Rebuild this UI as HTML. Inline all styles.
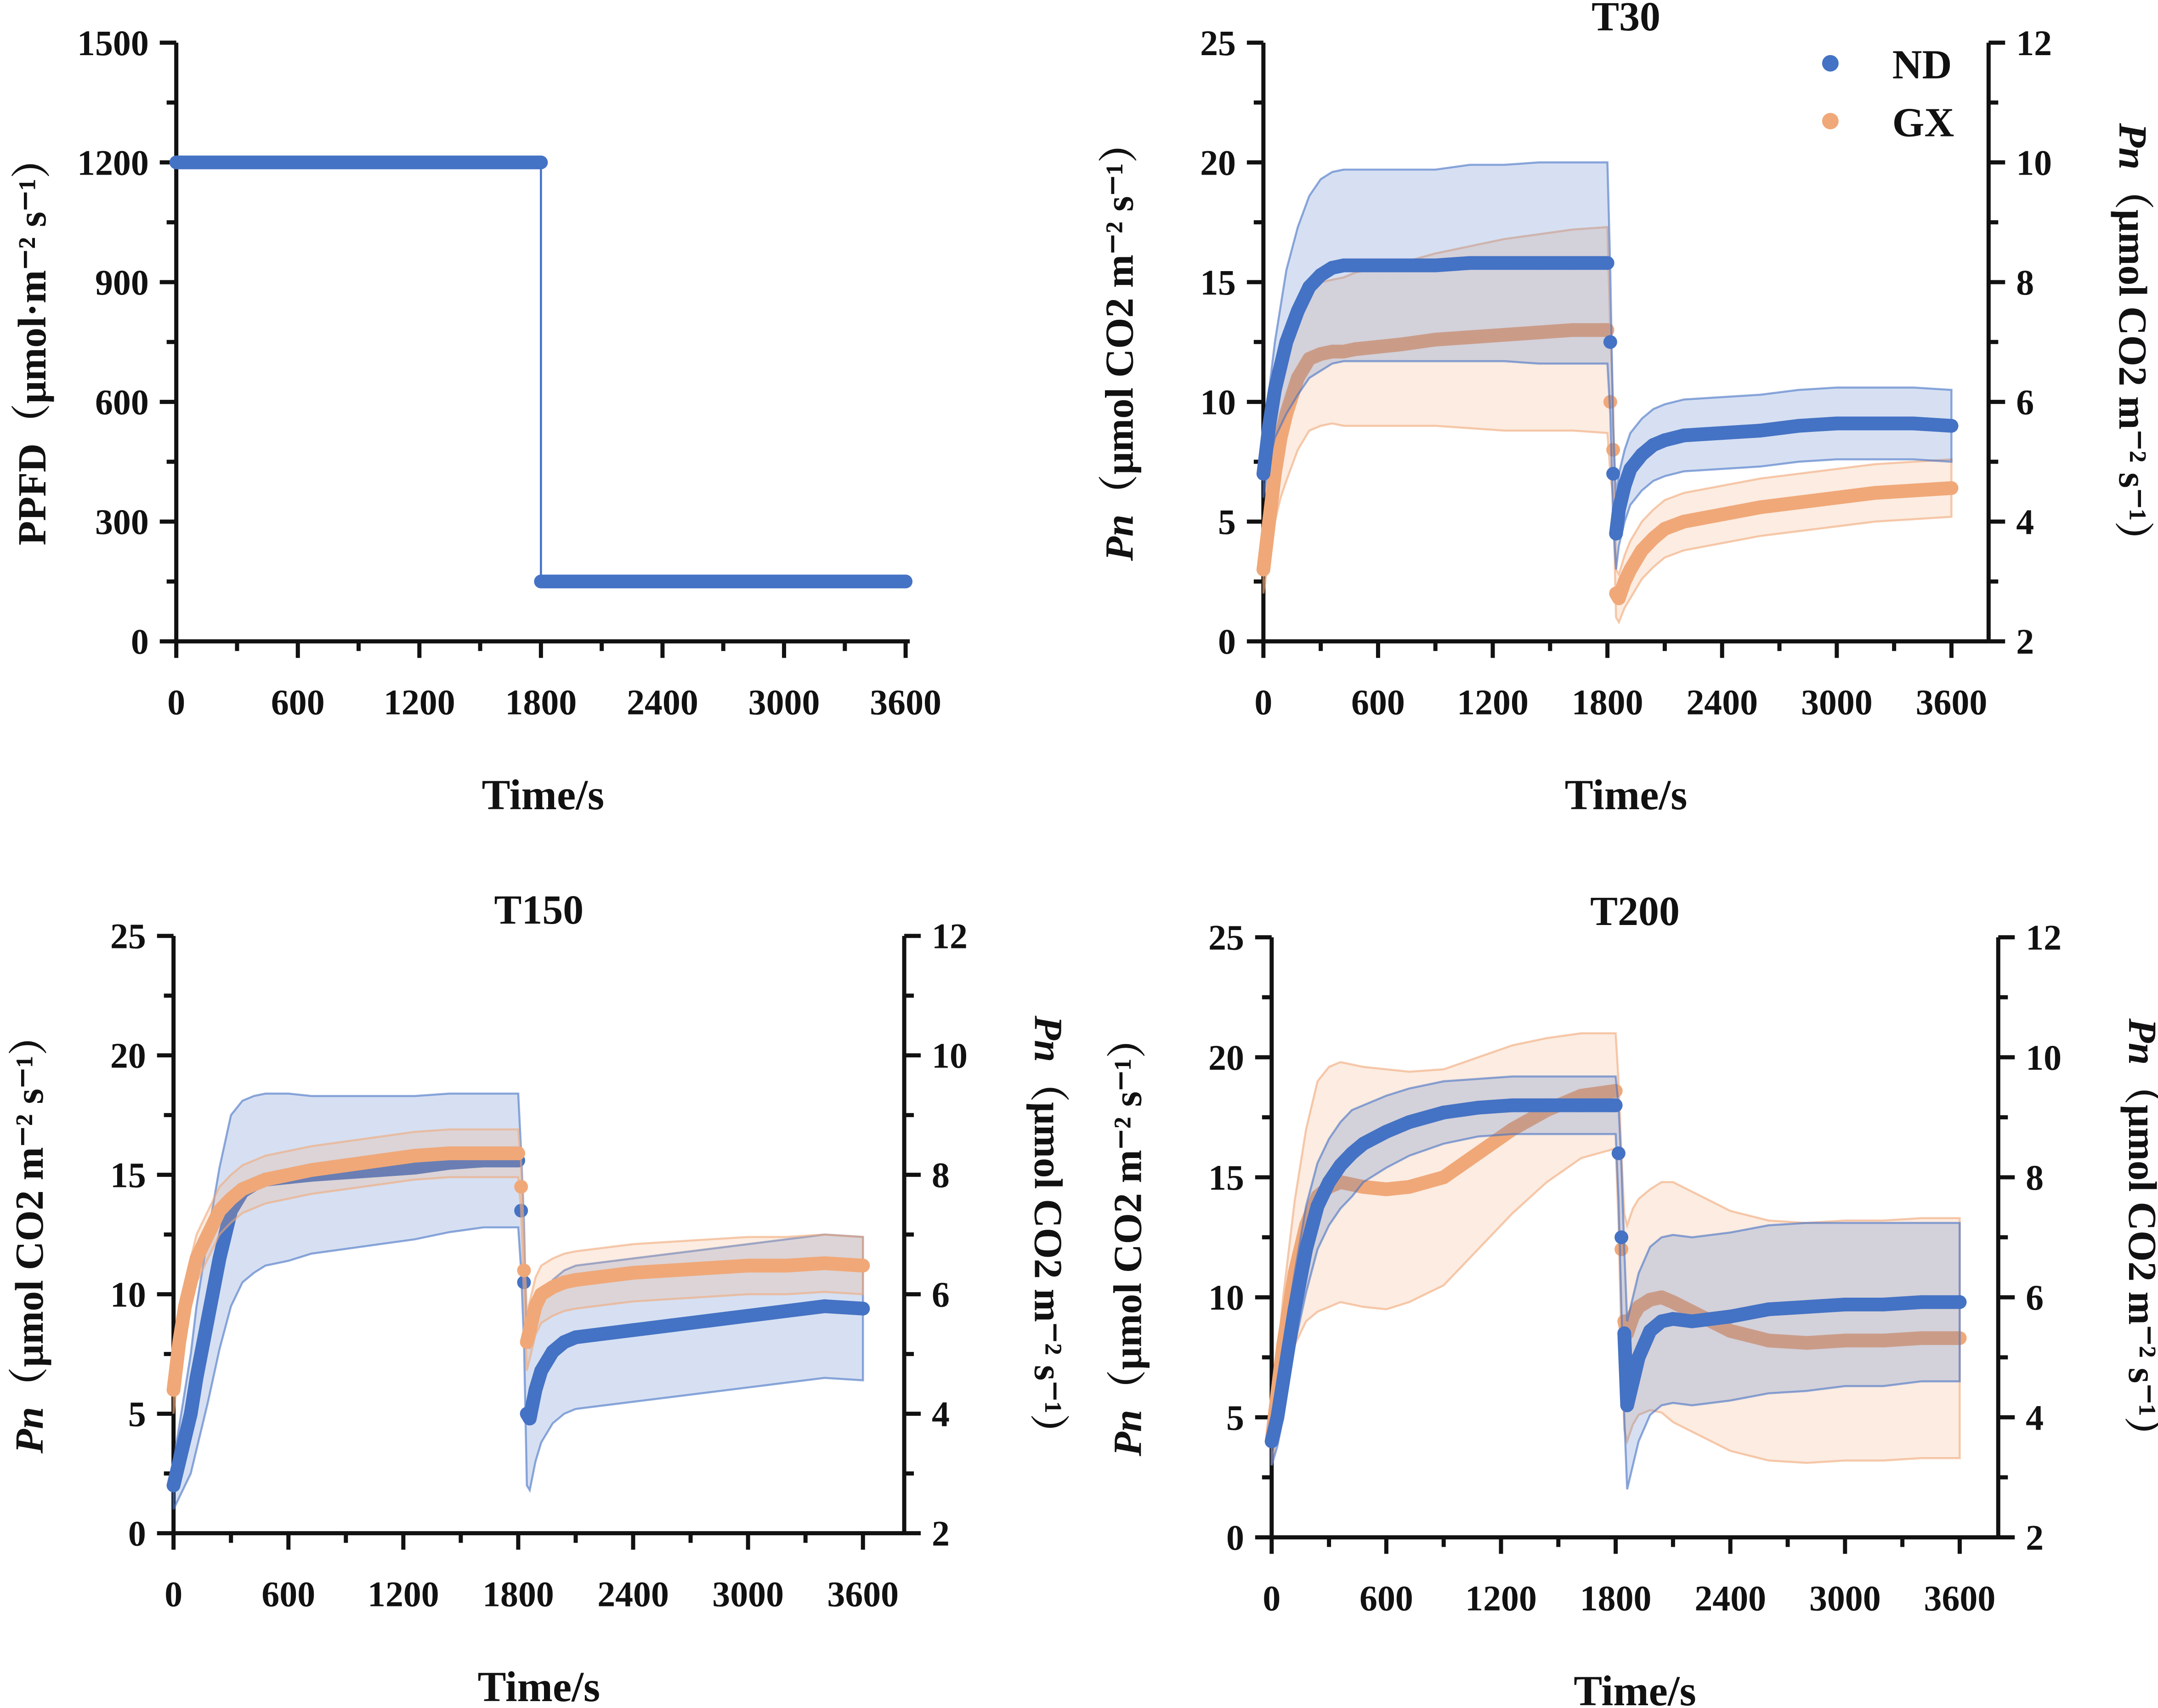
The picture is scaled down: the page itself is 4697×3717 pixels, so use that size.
<!DOCTYPE html>
<html><head><meta charset="utf-8"><style>
html,body{margin:0;padding:0;background:#fff}
svg{display:block}
text{font-family:"Liberation Serif","Noto Serif CJK SC",serif;font-weight:bold;fill:#111}
</style></head><body>
<svg id="chart" xmlns="http://www.w3.org/2000/svg" width="4697" height="3717" viewBox="0 0 1568 1241"></svg>
<script>
// ---- data ----
const times=[0,30,60,90,120,180,240,300,360,420,480,600,720,900,1080,1260,1440,1620,1800,1815,1830,1845,1860,1890,1920,1980,2040,2100,2200,2400,2600,2800,3000,3200,3400,3600];
const ppfdTimes=[0,1800,1800,3600];
const ppfdValues=[1200,1200,150,150];
const t30ND=[7,9,10.5,11.5,12.5,13.8,14.8,15.3,15.6,15.7,15.7,15.7,15.7,15.7,15.8,15.8,15.8,15.8,15.8,12.5,7,4.5,5.5,6.5,7.2,7.8,8.2,8.4,8.6,8.7,8.8,9.0,9.1,9.1,9.1,9.0];
const t30NDsd=[1,1.5,2,2.5,3,3.5,3.8,4,4,4,4,4,4,4,4.1,4.1,4.2,4.2,4.2,3,2,1.5,1.5,1.5,1.5,1.5,1.5,1.5,1.5,1.5,1.5,1.5,1.5,1.5,1.5,1.5];
const t30GX=[3,5,7,8.5,9.5,11,11.8,12,12.1,12.1,12.2,12.3,12.4,12.6,12.7,12.8,12.9,13,13,10,8,2,1.8,2.5,3.0,3.8,4.3,4.7,5.0,5.3,5.6,5.8,6.0,6.2,6.3,6.4];
const t30GXsd=[1,1.5,2,2.5,2.8,3,3,3,3,3.1,3.2,3.3,3.4,3.6,3.8,4,4.1,4.2,4.3,3,2,1,1,1.1,1.2,1.2,1.2,1.2,1.2,1.2,1.2,1.2,1.2,1.2,1.2,1.2];
const t150ND=[2,3,4,5,6.5,9,11.5,13.5,14.3,14.6,14.8,14.9,15.0,15.1,15.2,15.3,15.5,15.6,15.6,13.5,10.5,5,4.8,6,6.8,7.6,8,8.2,8.3,8.5,8.7,8.9,9.1,9.3,9.5,9.4];
const t150NDsd=[1,1.5,2,2.5,3,3.5,3.8,4,3.8,3.7,3.6,3.5,3.3,3.2,3.1,3,2.9,2.8,2.8,2.5,2.5,3,3,3,3,3,3,3,3,3,3,3,3,3,3,3];
const t150GX=[6,8,9.5,10.5,11.5,12.5,13.5,14,14.4,14.6,14.8,15,15.2,15.4,15.6,15.8,15.9,15.9,15.9,14.5,11,8,8.5,9.5,10,10.3,10.5,10.6,10.7,10.9,11,11.1,11.2,11.2,11.3,11.2];
const t150GXsd=[1,1,1,1,1,1,1,1,1,1,1,1,1,1,1,1,1,1,1,1,1.2,1.2,1.2,1.2,1.2,1.2,1.2,1.2,1.2,1.2,1.2,1.2,1.2,1.2,1.2,1.2];
const t200ND=[4,5,6.5,8,9.5,12,13.8,14.8,15.5,16,16.4,16.9,17.3,17.7,17.9,18,18,18,18,16,12.5,8.5,5.5,6.5,7.5,8.6,9.0,9.1,9.0,9.2,9.5,9.6,9.7,9.7,9.8,9.8];
const t200NDsd=[1,1.2,1.5,1.5,1.5,1.8,1.8,1.8,1.8,1.8,1.6,1.5,1.4,1.3,1.2,1.2,1.2,1.2,1.2,2,3,3.5,3.5,3.5,3.5,3.5,3.5,3.5,3.5,3.5,3.5,3.5,3.4,3.4,3.3,3.3];
const t200GX=[4,6,8,9.5,11,13,14.2,14.6,14.8,14.7,14.6,14.5,14.6,15,16,17,17.8,18.4,18.6,16,12,9,8.5,9.2,9.6,9.9,10.0,9.8,9.4,8.6,8.2,8.1,8.2,8.2,8.3,8.3];
const t200GXsd=[1,1.5,2,2.5,3,4,4.8,5,5,5,5,5,4.8,4.5,4,3.5,3,2.6,2.4,3,4,4.5,4.5,4.5,4.5,4.6,4.8,5,5,5,5,5,5,5,5,5];
const xTicks=[0,600,1200,1800,2400,3000,3600];
const pnTicks=[0,5,10,15,20,25];
const rightTicks=[2,4,6,8,10,12];
const ppfdTicks=[0,300,600,900,1200,1500];

const NS="http://www.w3.org/2000/svg";
const svg=document.getElementById('chart');
function el(tag,attrs,parent,txt){const e=document.createElementNS(NS,tag);for(const k in attrs)e.setAttribute(k,attrs[k]);if(txt!==undefined)e.textContent=txt;(parent||svg).appendChild(e);return e;}
const ND="#4472C4", GX="#F0A878";

function panel(p){
  const g=el('g',{});
  
  
  const xs=t=>p.x0+(p.x1-p.x0)*t/3600;
  const ys=v=>p.yb-(p.yb-p.yt)*v/p.ymax;
  const xr=p.rx||p.x1+3;
  // axes
  const ax=el('line',{x1:p.x0,y1:p.yb,x2:xr,y2:p.yb,stroke:'#111','stroke-width':3},g);
  
  const ay=el('line',{x1:p.x0,y1:p.yb+1,x2:p.x0,y2:p.yt,stroke:'#111','stroke-width':3},g);
  
  for(let t=0;t<=3600;t+=300){
    const maj=t%600===0;
    el('line',{x1:xs(t),y1:p.yb,x2:xs(t),y2:p.yb+(maj?12:7),stroke:'#111','stroke-width':3},g);
  }
  xTicks.forEach(t=>{const tx=el('text',{x:xs(t),y:p.yb+53,'text-anchor':'middle','font-size':26},g,String(t));
    });
  const yt=p.yticks;
  for(let i=0;i<yt.length;i++){
    const y=ys(yt[i]);
    el('line',{x1:p.x0,y1:y,x2:p.x0-12,y2:y,stroke:'#111','stroke-width':3},g);
    if(i<yt.length-1){const ym=(y+ys(yt[i+1]))/2;el('line',{x1:p.x0,y1:ym,x2:p.x0-7,y2:ym,stroke:'#111','stroke-width':3},g);}
    const tx=el('text',{x:p.x0-20,y:y+9,'text-anchor':'end','font-size':26},g,String(yt[i]));
    
  }
  if(p.rx){
    el('line',{x1:p.rx,y1:p.yb+1,x2:p.rx,y2:p.yt,stroke:'#111','stroke-width':3},g);
    for(let i=0;i<rightTicks.length;i++){
      const y=p.yb-(p.yb-p.yt)*(rightTicks[i]-2)/10;
      el('line',{x1:p.rx,y1:y,x2:p.rx+12,y2:y,stroke:'#111','stroke-width':3},g);
      if(i<rightTicks.length-1){const ym=y-(p.yb-p.yt)/10;el('line',{x1:p.rx,y1:ym,x2:p.rx+7,y2:ym,stroke:'#111','stroke-width':3},g);}
      const tx=el('text',{x:p.rx+20,y:y+9,'font-size':26},g,String(rightTicks[i]));
      
    }
    const cx=p.rx+95, cy=(p.yb+p.yt)/2;
    const rl=el('text',{x:cx,y:cy,'text-anchor':'middle','font-size':29,transform:`rotate(90 ${cx} ${cy})`},g);
    
    el('tspan',{'font-style':'italic'},rl,'Pn');el('tspan',{},rl,'（μmol CO2 m⁻² s⁻¹）');
  }
  // labels
  const xl=el('text',{x:(p.x0+xr)/2,y:p.yb+122,'text-anchor':'middle','font-size':31},g,'Time/s');
  
  const lx=p.x0-95, ly=(p.yb+p.yt)/2;
  const yl=el('text',{x:lx,y:ly,'text-anchor':'middle','font-size':29,transform:`rotate(-90 ${lx} ${ly})`},g);
  
  if(p.ppfd){el('tspan',{},yl,'PPFD（μmol·m⁻² s⁻¹）');}
  else {el('tspan',{'font-style':'italic'},yl,'Pn');el('tspan',{},yl,'（μmol CO2 m⁻² s⁻¹）');}
  if(p.title){const tt=el('text',{x:(p.x0+xr)/2,y:p.yt-9,'text-anchor':'middle','font-size':30},g,p.title);
    }
  // series
  (p.series||[]).forEach(s=>{
    const up=times.map((t,i)=>xs(t)+','+ys(s.m[i]+s.sd[i]));
    const lo=times.map((t,i)=>xs(t)+','+ys(Math.max(0,s.m[i]-s.sd[i]))).reverse();
    const band=el('polygon',{points:up.concat(lo).join(' '),fill:s.c,'fill-opacity':0.22,stroke:s.c,'stroke-opacity':0.6,'stroke-width':1.5},g);
    
    const i1=times.indexOf(1800);
    [[0,i1+1],[i1+3,times.length]].forEach(([a,b])=>{
      const pts=times.slice(a,b).map((t,k)=>xs(t)+','+ys(s.m[a+k])).join(' ');
      const pl=el('polyline',{points:pts,fill:'none',stroke:s.c,'stroke-width':10,'stroke-linecap':'round','stroke-linejoin':'round'},g);
      
    });
    times.forEach((t,i)=>{const c=el('circle',{cx:xs(t),cy:ys(s.m[i]),r:5,fill:s.c},g);
      });
  });
  if(p.ppfd){
    const pts=ppfdTimes.map((t,i)=>xs(t)+','+ys(ppfdValues[i])).join(' ');
    el('polyline',{points:pts,fill:'none',stroke:ND,'stroke-width':1.5},g);
    [[0,1],[2,3]].forEach(([a,b])=>{
      el('line',{x1:xs(ppfdTimes[a]),y1:ys(ppfdValues[a]),x2:xs(ppfdTimes[b]),y2:ys(ppfdValues[b]),stroke:ND,'stroke-width':10,'stroke-linecap':'round'},g);
    });
  }
  return g;
}
panel({name:'ppfd-panel',x0:128,x1:658,yb:466,yt:31,ymax:1500,yticks:ppfdTicks,ppfd:true});
panel({name:'t30-panel',title:'T30',x0:918,x1:1418,yb:466,yt:31,ymax:25,yticks:pnTicks,rx:1445,
  series:[{n:'gx',m:t30GX,sd:t30GXsd,c:GX},{n:'nd',m:t30ND,sd:t30NDsd,c:ND}]});
panel({name:'t150-panel',title:'T150',x0:126,x1:627,yb:1114,yt:680,ymax:25,yticks:pnTicks,rx:657,
  series:[{n:'nd',m:t150ND,sd:t150NDsd,c:ND},{n:'gx',m:t150GX,sd:t150GXsd,c:GX}]});
panel({name:'t200-panel',title:'T200',x0:924,x1:1424,yb:1117,yt:681,ymax:25,yticks:pnTicks,rx:1452,
  series:[{n:'gx',m:t200GX,sd:t200GXsd,c:GX},{n:'nd',m:t200ND,sd:t200NDsd,c:ND}]});
// legend
const lg=el('g',{});


el('circle',{cx:1330,cy:46,r:6,fill:ND},lg);
el('text',{x:1375,y:57,'font-size':30},lg,'ND');
el('circle',{cx:1330,cy:88,r:6,fill:GX},lg);
el('text',{x:1375,y:99,'font-size':30},lg,'GX');
</script>
</body></html>
